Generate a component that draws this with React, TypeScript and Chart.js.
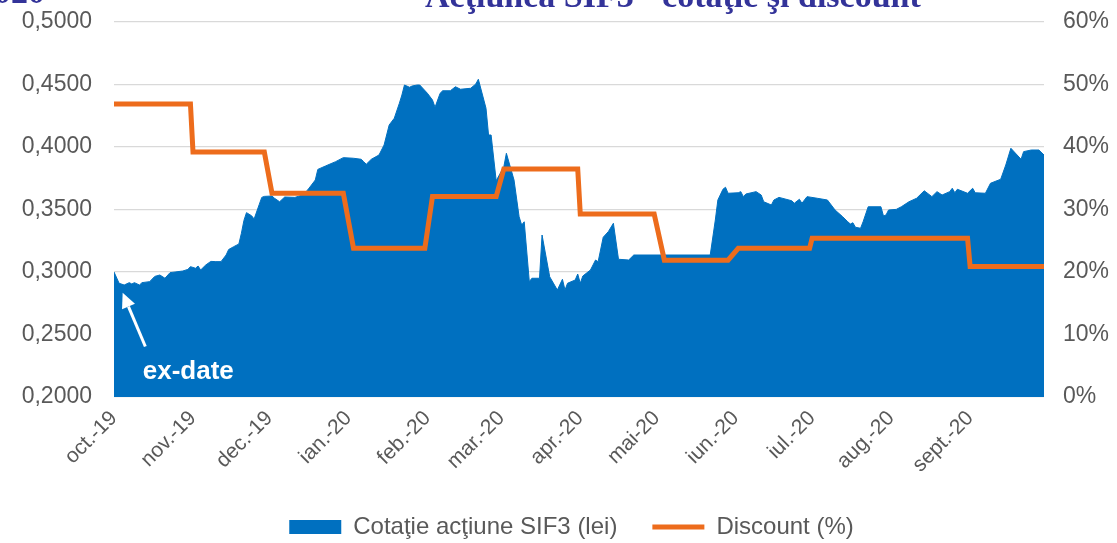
import React, { useEffect, useRef } from 'react';
import { Chart, registerables } from 'chart.js';

Chart.register(...registerables);

// x values are days since 1 Oct 2019
const priceDays = [
  0, 2, 4, 6, 7, 8, 10, 11, 14, 16, 18, 20, 22, 24, 27, 29, 30, 32, 33, 34, 36, 38, 40, 42, 44, 45, 47, 49, 50, 51,
  52, 54, 55, 57, 58, 59, 62, 63, 65, 67, 71, 74, 76, 79, 80, 83, 87, 90, 94, 97, 98, 99, 101, 104, 106, 108, 110,
  112, 113, 114, 116, 117, 119, 120, 123, 125, 126, 128, 129, 132, 134, 136, 140, 142, 143, 146, 147, 148, 150, 153,
  154, 157, 159, 160, 161, 163, 164, 167, 168, 171, 174, 176, 177, 178, 181, 182, 183, 184, 187, 189, 190, 192, 194,
  196, 198, 202, 204, 234, 236, 237, 239, 240, 241, 245, 246, 247, 248, 252, 254, 255, 258, 259, 261, 266, 267, 269,
  270, 272, 276, 280, 283, 286, 288, 289, 290, 291, 293, 294, 296, 301, 302, 303, 304, 307, 309, 312, 315, 318, 321,
  323, 325, 328, 329, 330, 331, 335, 337, 338, 342, 344, 348, 350, 352, 356, 357, 360, 363, 365,
];
const priceValues = [
  0.3, 0.291, 0.2896, 0.2915, 0.2904, 0.2915, 0.2896, 0.2915, 0.2923, 0.2965, 0.2976, 0.295, 0.2995, 0.3, 0.3008,
  0.3021, 0.3043, 0.303, 0.3048, 0.3016, 0.3056, 0.3085, 0.3083, 0.3083, 0.3136, 0.318, 0.3203, 0.3224, 0.331,
  0.3413, 0.3475, 0.345, 0.3424, 0.354, 0.3597, 0.3605, 0.3608, 0.359, 0.3562, 0.36, 0.3597, 0.3616, 0.3656,
  0.3736, 0.3821, 0.3848, 0.3883, 0.3915, 0.391, 0.3902, 0.3883, 0.3862, 0.3902, 0.3936, 0.4016, 0.4176, 0.423,
  0.435, 0.4416, 0.4496, 0.4478, 0.4488, 0.4496, 0.4496, 0.443, 0.4376, 0.4318, 0.443, 0.445, 0.445, 0.4482,
  0.4462, 0.447, 0.4504, 0.4542, 0.431, 0.4096, 0.4096, 0.373, 0.3842, 0.395, 0.3736, 0.3442, 0.3376, 0.3402,
  0.2922, 0.295, 0.295, 0.3296, 0.2962, 0.2856, 0.2942, 0.2856, 0.291, 0.2936, 0.2984, 0.291, 0.2968, 0.3016,
  0.3096, 0.3082, 0.3278, 0.3323, 0.339, 0.3102, 0.3096, 0.3136, 0.3136, 0.3416, 0.3576, 0.3662, 0.3678, 0.363,
  0.3634, 0.3643, 0.3603, 0.3624, 0.3643, 0.3616, 0.3562, 0.3536, 0.3576, 0.3597, 0.357, 0.355, 0.3582, 0.355,
  0.3603, 0.359, 0.3576, 0.3496, 0.3442, 0.3402, 0.3384, 0.3394, 0.3358, 0.335, 0.3402, 0.3522, 0.3522, 0.3448,
  0.3456, 0.3496, 0.3501, 0.3522, 0.3562, 0.359, 0.365, 0.3603, 0.3643, 0.3616, 0.3643, 0.367, 0.3634, 0.3662,
  0.363, 0.367, 0.3634, 0.363, 0.371, 0.3742, 0.3856, 0.399, 0.3902, 0.3963, 0.3976, 0.3976, 0.3936,
];

const discountDays = [0, 30, 31, 59, 62, 90, 94, 122, 125, 150, 153, 182, 183, 212, 216, 241, 245, 273, 274, 335, 336, 365];
const discountValues = [
  46.9, 46.9, 39.2, 39.2, 32.6, 32.6, 23.8, 23.8, 32.1, 32.1, 36.5, 36.5, 29.3, 29.3, 21.9, 21.9, 23.8, 23.8, 25.4,
  25.4, 20.9, 20.9,
];

const monthTickDays = [0, 31, 61, 92, 123, 152, 183, 213, 244, 274, 305, 336];
const monthLabels = [
  'oct.-19', 'nov.-19', 'dec.-19', 'ian.-20', 'feb.-20', 'mar.-20', 'apr.-20', 'mai-20', 'iun.-20', 'iul.-20',
  'aug.-20', 'sept.-20',
];

const seriesNames = ['Cotaţie acţiune SIF3 (lei)', 'Discount (%)'];
const titleText = 'Acţiunea SIF3 - cotaţie şi discount';
const subTitleText = '2020';
const annotationText = 'ex-date';

const BLUE = '#0070C0';
const ORANGE = '#ED6C1C';
const TEXT = '#595959';
const GRID = '#D9D9D9';
const TITLE = '#333399';
const SANS = '"Liberation Sans", Arial, sans-serif';
const SERIF = '"Liberation Serif", "Times New Roman", serif';

export default function App() {
  const ref = useRef<HTMLCanvasElement>(null);

  useEffect(() => {
    document.body.style.margin = '0';
    const canvas = ref.current;
    if (!canvas) return;

    const decorations = {
      id: 'decorations',
      afterDatasetsDraw(chart: any) {
        const { ctx } = chart;
        const x = chart.scales.x;
        const y = chart.scales.y;
        ctx.save();
        // arrow pointing at the ex-date drop
        const tipX = x.getPixelForValue(3.4);
        const tipY = y.getPixelForValue(0.2834);
        const tailX = x.getPixelForValue(12.3);
        const tailY = y.getPixelForValue(0.2404);
        const ang = Math.atan2(tipY - tailY, tipX - tailX);
        const headLen = 15;
        const headW = 7;
        const bx = tipX - Math.cos(ang) * headLen;
        const by = tipY - Math.sin(ang) * headLen;
        ctx.strokeStyle = '#FFFFFF';
        ctx.fillStyle = '#FFFFFF';
        ctx.lineWidth = 3;
        ctx.beginPath();
        ctx.moveTo(tailX, tailY);
        ctx.lineTo(bx, by);
        ctx.stroke();
        ctx.beginPath();
        ctx.moveTo(tipX, tipY);
        ctx.lineTo(bx + Math.sin(ang) * headW, by - Math.cos(ang) * headW);
        ctx.lineTo(bx - Math.sin(ang) * headW, by + Math.cos(ang) * headW);
        ctx.closePath();
        ctx.fill();
        // label
        ctx.font = `bold 26px ${SANS}`;
        ctx.textAlign = 'left';
        ctx.textBaseline = 'alphabetic';
        ctx.fillText(annotationText, x.getPixelForValue(11.3), y.getPixelForValue(0.2144));
        ctx.restore();
      },
      afterDraw(chart: any) {
        const { ctx } = chart;
        ctx.save();
        ctx.fillStyle = TITLE;
        ctx.font = `bold 34px ${SERIF}`;
        ctx.textBaseline = 'alphabetic';
        ctx.textAlign = 'left';
        ctx.fillText(titleText, 425, 7);
        ctx.textAlign = 'right';
        ctx.fillText(subTitleText, 45, 3);
        ctx.restore();
      },
    };

    const noVerticalPadding = (scale: any) => {
      scale.paddingTop = 0;
      scale.paddingBottom = 0;
    };

    const chart = new Chart(canvas, {
      type: 'line',
      data: {
        datasets: [
          {
            label: seriesNames[0],
            data: priceDays.map((d, i) => ({ x: d, y: priceValues[i] })),
            yAxisID: 'y',
            fill: 'start',
            backgroundColor: BLUE,
            borderColor: BLUE,
            borderWidth: 1,
            pointRadius: 0,
            tension: 0,
            order: 1,
          },
          {
            label: seriesNames[1],
            data: discountDays.map((d, i) => ({ x: d, y: discountValues[i] })),
            yAxisID: 'y1',
            fill: false,
            borderColor: ORANGE,
            backgroundColor: ORANGE,
            borderWidth: 5,
            borderJoinStyle: 'miter',
            pointRadius: 0,
            tension: 0,
            order: 0,
          },
        ],
      },
      options: {
        responsive: false,
        maintainAspectRatio: false,
        animation: false,
        events: [],
        layout: { padding: { top: 22, left: 0, right: -26, bottom: -6 } },
        scales: {
          x: {
            type: 'linear',
            min: 0,
            max: 365,
            afterBuildTicks: (scale: any) => {
              scale.ticks = monthTickDays.map((v) => ({ value: v }));
            },
            afterFit: (scale: any) => {
              scale.height = 83;
            },
            ticks: {
              autoSkip: false,
              minRotation: 45,
              maxRotation: 45,
              color: TEXT,
              font: { family: SANS, size: 21 },
              padding: 9,
              callback: (_v: any, i: number) => monthLabels[i],
            },
            grid: { display: false, drawTicks: false },
            border: { display: false },
          },
          y: {
            position: 'left',
            min: 0.2,
            max: 0.5,
            afterFit: (scale: any) => {
              scale.width = 114;
              noVerticalPadding(scale);
            },
            ticks: {
              stepSize: 0.05,
              color: TEXT,
              font: { family: SANS, size: 23 },
              padding: 22,
              callback: (v: any) => Number(v).toFixed(4).replace('.', ','),
            },
            grid: { color: GRID, lineWidth: 1.3, drawTicks: false },
            border: { display: false },
          },
          y1: {
            position: 'right',
            min: 0,
            max: 60,
            afterFit: (scale: any) => {
              scale.width = 99;
              noVerticalPadding(scale);
            },
            ticks: {
              stepSize: 10,
              color: TEXT,
              font: { family: SANS, size: 23 },
              padding: 19,
              callback: (v: any) => `${v}%`,
            },
            grid: { display: false, drawTicks: false },
            border: { display: false },
          },
        },
        plugins: {
          title: { display: false },
          tooltip: { enabled: false },
          legend: {
            position: 'bottom',
            labels: {
              usePointStyle: true,
              pointStyleWidth: 52,
              boxHeight: 14,
              padding: 35,
              color: TEXT,
              font: { family: SANS, size: 24 },
              generateLabels: () => [
                {
                  text: seriesNames[0],
                  fillStyle: BLUE,
                  strokeStyle: BLUE,
                  lineWidth: 0,
                  pointStyle: 'rect',
                  hidden: false,
                  datasetIndex: 0,
                  fontColor: TEXT,
                },
                {
                  text: seriesNames[1],
                  fillStyle: 'rgba(0,0,0,0)',
                  strokeStyle: ORANGE,
                  lineWidth: 5,
                  pointStyle: 'line',
                  hidden: false,
                  datasetIndex: 1,
                  fontColor: TEXT,
                },
              ],
            },
          },
        },
      } as any,
      plugins: [decorations],
    });

    return () => chart.destroy();
  }, []);

  return <canvas ref={ref} width={1117} height={543} style={{ display: 'block', width: 1117, height: 543 }} />;
}
